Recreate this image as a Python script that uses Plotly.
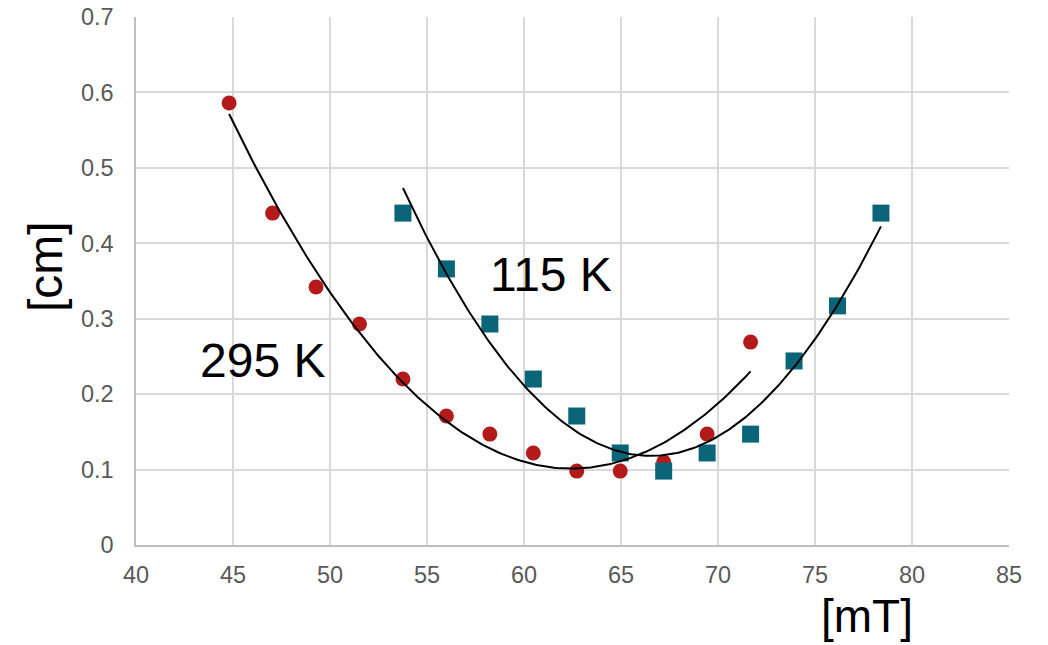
import numpy as np
import plotly.graph_objects as go

# 295 K (red circles)
x_295 = [44.8, 47.04, 49.28, 51.52, 53.76, 56.0, 58.24, 60.48, 62.72, 64.96, 67.2, 69.44, 71.68]
y_295 = [0.586, 0.440, 0.342, 0.293, 0.220, 0.171, 0.147, 0.122, 0.098, 0.098, 0.110, 0.147, 0.269]

# 115 K (blue squares)
x_115 = [53.76, 56.0, 58.24, 60.48, 62.72, 64.96, 67.2, 69.44, 71.68, 73.92, 76.16, 78.4]
y_115 = [0.440, 0.366, 0.293, 0.220, 0.171, 0.122, 0.098, 0.122, 0.147, 0.244, 0.317, 0.440]

x_ticks = [40, 45, 50, 55, 60, 65, 70, 75, 80, 85]
y_ticks = [0, 0.1, 0.2, 0.3, 0.4, 0.5, 0.6, 0.7]
y_tick_text = ["0", "0.1", "0.2", "0.3", "0.4", "0.5", "0.6", "0.7"]

RED = "#B31B1B"
BLUE = "#0B6579"
FONT = "Liberation Sans, Arial, sans-serif"

W, H = 1048, 645
ML, MR, MT, MB = 136, 39, 17, 100


def trend(x, y):
    c = np.polyfit(x, y, 2)
    xs = np.linspace(min(x), max(x), 200)
    return xs, np.polyval(c, xs)


fig = go.Figure()
fig.add_trace(go.Scatter(x=x_295, y=y_295, mode="markers",
                         marker=dict(symbol="circle", size=15, color=RED),
                         showlegend=False))
fig.add_trace(go.Scatter(x=x_115, y=y_115, mode="markers",
                         marker=dict(symbol="square", size=17, color=BLUE),
                         showlegend=False))
for xx, yy in (trend(x_295, y_295), trend(x_115, y_115)):
    fig.add_trace(go.Scatter(x=xx, y=yy, mode="lines",
                             line=dict(color="black", width=2),
                             showlegend=False, hoverinfo="skip"))

pw, ph = W - ML - MR, H - MT - MB


def px_to_paper(px, py):
    return (px - ML) / pw, (H - MB - py) / ph


mt_x, mt_y = px_to_paper(867, 616)
cm_x, cm_y = px_to_paper(45, 267)

big = dict(size=48, color="black", family=FONT)

fig.update_layout(
    width=W, height=H,
    margin=dict(l=ML, r=MR, t=MT, b=MB, autoexpand=False),
    paper_bgcolor="white", plot_bgcolor="white",
    font=dict(family=FONT, color="#595959", size=23.5),
    xaxis=dict(range=[40, 85], tickvals=x_ticks, showgrid=True,
               gridcolor="#D9D9D9", gridwidth=1.5, showline=True,
               linecolor="#BFBFBF", linewidth=1.5, zeroline=False,
               ticks="", ticklabelstandoff=8,
               tickfont=dict(size=23.5, color="#595959")),
    yaxis=dict(range=[0, 0.7], tickvals=y_ticks, ticktext=y_tick_text,
               showgrid=True, gridcolor="#D9D9D9", gridwidth=1.5,
               showline=True, linecolor="#BFBFBF", linewidth=1.5,
               zeroline=False, ticks="", ticklabelstandoff=16,
               tickfont=dict(size=23.5, color="#595959")),
    annotations=[
        dict(text="[mT]", x=mt_x, y=mt_y, xref="paper", yref="paper",
             xanchor="center", yanchor="middle", showarrow=False,
             font=dict(size=46, color="black", family=FONT)),
        dict(text="[cm]", x=cm_x, y=cm_y, xref="paper", yref="paper",
             xanchor="center", yanchor="middle", showarrow=False,
             textangle=-90, font=big),
        dict(text="295 K", x=46.5, y=0.244, xref="x", yref="y",
             xanchor="center", yanchor="middle", showarrow=False, font=big),
        dict(text="115 K", x=61.4, y=0.358, xref="x", yref="y",
             xanchor="center", yanchor="middle", showarrow=False, font=big),
    ],
)

fig.write_html("out.html", config={"displayModeBar": False},
               post_script="document.body.style.margin='0';document.body.style.padding='0';")
